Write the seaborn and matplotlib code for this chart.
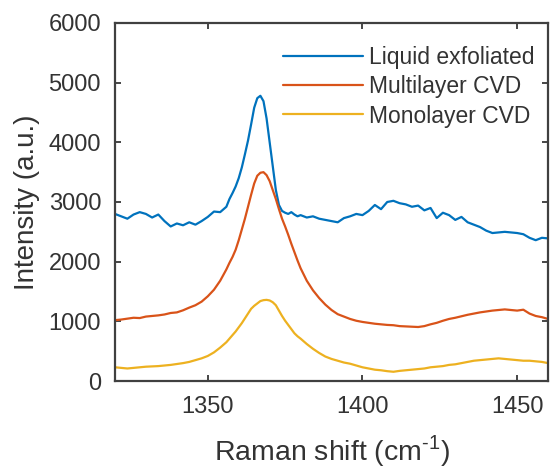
import numpy as np
import pandas as pd
import matplotlib
matplotlib.use("Agg")
import matplotlib.pyplot as plt
import seaborn as sns

# Raman shift grid (cm^-1), finer around the D peak
shift = [1320, 1322, 1324, 1326, 1328, 1330, 1332, 1334, 1336, 1338,
         1340, 1342, 1344, 1346, 1348, 1350, 1352, 1354, 1356, 1357,
         1358, 1359, 1360, 1361, 1362, 1363, 1364, 1365, 1366, 1367,
         1368, 1369, 1370, 1371, 1372, 1373, 1374, 1375, 1376, 1377,
         1378, 1379, 1380, 1382, 1384, 1386, 1388, 1390, 1392, 1394,
         1396, 1398, 1400, 1402, 1404, 1406, 1408, 1410, 1412, 1414,
         1416, 1418, 1420, 1422, 1424, 1426, 1428, 1430, 1432, 1434,
         1436, 1438, 1440, 1442, 1444, 1446, 1448, 1450, 1452, 1454,
         1456, 1458, 1460]

liquid_exfoliated = [2800, 2760, 2720, 2790, 2830, 2800, 2740, 2790, 2680, 2590,
                     2640, 2610, 2660, 2620, 2680, 2750, 2840, 2830, 2920, 3050,
                     3150, 3260, 3400, 3580, 3800, 4030, 4300, 4580, 4740, 4780,
                     4690, 4400, 4000, 3600, 3200, 2950, 2850, 2820, 2800, 2830,
                     2790, 2760, 2780, 2740, 2760, 2720, 2700, 2680, 2660, 2730,
                     2760, 2800, 2780, 2850, 2950, 2880, 3000, 3020, 2980, 2960,
                     2920, 2940, 2860, 2900, 2730, 2820, 2780, 2700, 2750, 2660,
                     2620, 2580, 2520, 2480, 2490, 2500, 2490, 2480, 2460, 2400,
                     2360, 2400, 2390]

multilayer_cvd = [1020, 1030, 1045, 1060, 1055, 1080, 1090, 1100, 1115, 1140,
                  1150, 1185, 1230, 1270, 1330, 1420, 1530, 1680, 1870, 1980,
                  2080, 2200, 2360, 2540, 2720, 2920, 3120, 3310, 3440, 3490,
                  3500, 3450, 3350, 3200, 3050, 2880, 2720, 2590, 2450, 2300,
                  2160, 2020, 1890, 1680, 1520, 1390, 1280, 1190, 1120, 1080,
                  1040, 1010, 990, 975, 960, 950, 940, 935, 920, 915,
                  910, 905, 920, 950, 975, 1010, 1040, 1060, 1085, 1110,
                  1130, 1150, 1165, 1180, 1190, 1200, 1190, 1180, 1195, 1130,
                  1090, 1070, 1040]

monolayer_cvd = [230, 220, 210, 220, 230, 240, 245, 250, 260, 270,
                 285, 300, 320, 350, 380, 420, 480, 560, 650, 710,
                 770, 830, 900, 970, 1050, 1130, 1210, 1260, 1300, 1340,
                 1355, 1360, 1350, 1320, 1270, 1180, 1090, 1010, 940, 870,
                 800, 750, 710, 620, 540, 470, 410, 370, 340, 310,
                 290, 260, 230, 210, 190, 180, 165, 155, 170, 180,
                 190, 200, 210, 230, 240, 250, 270, 280, 300, 320,
                 340, 350, 360, 370, 380, 370, 360, 350, 340, 340,
                 330, 320, 300]

labels = ["Liquid exfoliated", "Multilayer CVD", "Monolayer CVD"]
colors = ["#0072BD", "#D95319", "#EDB120"]

df = pd.DataFrame({
    "shift": shift * 3,
    "intensity": liquid_exfoliated + multilayer_cvd + monolayer_cvd,
    "sample": [labels[0]] * len(shift) + [labels[1]] * len(shift) + [labels[2]] * len(shift),
})

sns.set_theme(style="white")
plt.rcParams["font.family"] = ["Liberation Sans", "DejaVu Sans"]
plt.rcParams["mathtext.fontset"] = "custom"
plt.rcParams["mathtext.rm"] = "Liberation Sans"

fig = plt.figure(figsize=(5.51, 4.69), dpi=100)
ax = fig.add_axes([0.2087, 0.1876, 0.786, 0.7634])

sns.lineplot(data=df, x="shift", y="intensity", hue="sample",
             hue_order=labels, palette=colors, linewidth=1.6, ax=ax)

ax.set_xlim(1320, 1460)
ax.set_ylim(0, 6000)
ax.set_xticks([1350, 1400, 1450])
ax.set_yticks(range(0, 6001, 1000))

ax.tick_params(direction="in", length=4, width=1.2, colors="#262626",
               labelcolor="#333333", labelsize=17, top=True, right=True,
               bottom=True, left=True)
ax.tick_params(axis="x", pad=11)
ax.tick_params(axis="y", pad=10)
for sp in ax.spines.values():
    sp.set_color("#404040")
    sp.set_linewidth(1.6)

ax.set_xlabel(r"Raman shift (cm$^{\text{-}1}$)", fontsize=20.5, color="#333333", labelpad=11)
ax.set_ylabel("Intensity (a.u.)", fontsize=20, color="#333333", labelpad=6)

leg = ax.legend(loc="upper right", frameon=False, fontsize=16.5,
                handlelength=3.5, handletextpad=0.25, labelspacing=0.28,
                borderaxespad=0.2, bbox_to_anchor=(1.0, 0.975))
for text in leg.get_texts():
    text.set_color("#333333")

fig.savefig("out.png", dpi=100)
